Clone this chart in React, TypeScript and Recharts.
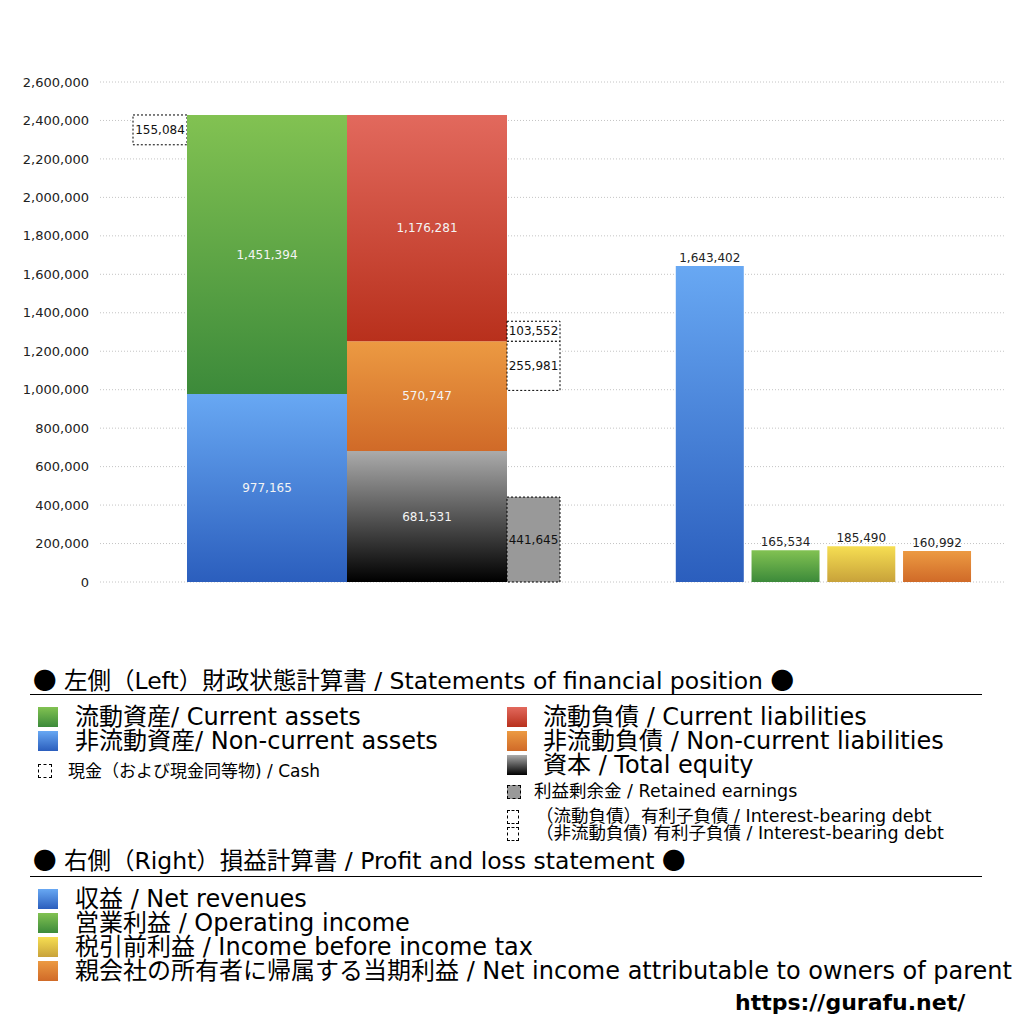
import React from 'react'
import { BarChart, Bar, XAxis, YAxis, CartesianGrid, LabelList, Cell } from 'recharts'

// Balance sheet values (left side)
const cash = [155084]
const currentAssets = [1451394]
const nonCurrentAssets = [977165]
const currentLiabilities = [1176281]
const nonCurrentLiabilities = [570747]
const totalEquity = [681531]
const retainedEarnings = [441645]
const currentDebt = [103552]
const nonCurrentDebt = [255981]

// Profit and loss values (right side)
const plNames = ['収益', '営業利益', '税引前利益', '親会社の所有者に帰属する当期利益']
const plValues = [1643402, 165534, 185490, 160992]
const plFills = ['url(#gBlue)', 'url(#gGreen)', 'url(#gYellow)', 'url(#gOrange)']

const yTicks = [0, 200000, 400000, 600000, 800000, 1000000, 1200000, 1400000, 1600000, 1800000, 2000000, 2200000, 2400000, 2600000]

const FONT = '"DejaVu Sans", "Noto Sans CJK JP", sans-serif'
const CJK = '"Noto Sans CJK JP", sans-serif'
const W = 1024
const H = 620
const MARGIN_L = 100
const MARGIN_R = 19
const MARGIN_T = 82
const MARGIN_B = 38

const fmt = (v: any) => Number(v).toLocaleString('en-US')

const bsData = [
  {
    name: 'BS',
    cashBase: nonCurrentAssets[0] + currentAssets[0] - cash[0],
    cash: cash[0],
    nonCurrentAssets: nonCurrentAssets[0],
    currentAssets: currentAssets[0],
    totalEquity: totalEquity[0],
    nonCurrentLiabilities: nonCurrentLiabilities[0],
    currentLiabilities: currentLiabilities[0],
    retainedEarnings: retainedEarnings[0],
    debtBase: totalEquity[0] + nonCurrentLiabilities[0] - nonCurrentDebt[0] - retainedEarnings[0],
    nonCurrentDebt: nonCurrentDebt[0],
    currentDebt: currentDebt[0],
  },
]

const plData = plNames.map((name, i) => ({ name, value: plValues[i] }))

function Gradients() {
  const stops: [string, string, string][] = [
    ['gGreen', '#82c252', '#3c8a3a'],
    ['gBlue', '#68a8f3', '#2b5ebd'],
    ['gRed', '#e2695d', '#b8301c'],
    ['gOrange', '#ec9a42', '#d06a28'],
    ['gGray', '#ababab', '#000000'],
    ['gYellow', '#f6de52', '#c8a23a'],
  ]
  return (
    <defs>
      {stops.map(([id, a, b]) => (
        <linearGradient key={id} id={id} x1="0" y1="0" x2="0" y2="1">
          <stop offset="0%" stopColor={a} />
          <stop offset="100%" stopColor={b} />
        </linearGradient>
      ))}
    </defs>
  )
}

const inLabel = { fill: '#f4f4f4', fontSize: 12, fontFamily: FONT }
const boxLabel = { fill: '#111', fontSize: 12, fontFamily: FONT }

function BalanceChart() {
  return (
    <BarChart
      width={W}
      height={H}
      data={bsData}
      barGap={0}
      margin={{ top: MARGIN_T, right: MARGIN_R, bottom: MARGIN_B, left: 0 }}
    >
      <Gradients />
      <CartesianGrid vertical={false} stroke="#c4c4c4" strokeDasharray="1 2" />
      <XAxis dataKey="name" hide padding={{ left: 0, right: 412 }} />
      <YAxis
        width={MARGIN_L}
        domain={[0, 2600000]}
        ticks={yTicks}
        tickFormatter={fmt}
        axisLine={false}
        tickLine={false}
        tickSize={0}
        tickMargin={11}
        tick={{ fill: '#222', fontSize: 13, fontFamily: FONT }}
        interval={0}
      />
      {/* cash box floats at the top of total assets */}
      <Bar dataKey="cashBase" stackId="cash" barSize={54} fill="transparent" isAnimationActive={false} />
      <Bar dataKey="cash" stackId="cash" barSize={54} fill="#fff" stroke="#000" strokeDasharray="2 2" isAnimationActive={false}>
        <LabelList dataKey="cash" position="center" formatter={fmt} style={boxLabel} />
      </Bar>
      <Bar dataKey="nonCurrentAssets" stackId="assets" barSize={160} fill="url(#gBlue)" isAnimationActive={false}>
        <LabelList dataKey="nonCurrentAssets" position="center" formatter={fmt} style={inLabel} />
      </Bar>
      <Bar dataKey="currentAssets" stackId="assets" barSize={160} fill="url(#gGreen)" isAnimationActive={false}>
        <LabelList dataKey="currentAssets" position="center" formatter={fmt} style={inLabel} />
      </Bar>
      <Bar dataKey="totalEquity" stackId="liab" barSize={160} fill="url(#gGray)" isAnimationActive={false}>
        <LabelList dataKey="totalEquity" position="center" formatter={fmt} style={inLabel} />
      </Bar>
      <Bar dataKey="nonCurrentLiabilities" stackId="liab" barSize={160} fill="url(#gOrange)" isAnimationActive={false}>
        <LabelList dataKey="nonCurrentLiabilities" position="center" formatter={fmt} style={inLabel} />
      </Bar>
      <Bar dataKey="currentLiabilities" stackId="liab" barSize={160} fill="url(#gRed)" isAnimationActive={false}>
        <LabelList dataKey="currentLiabilities" position="center" formatter={fmt} style={inLabel} />
      </Bar>
      <Bar dataKey="retainedEarnings" stackId="box" barSize={53} fill="#999" stroke="#000" strokeDasharray="2 2" isAnimationActive={false}>
        <LabelList dataKey="retainedEarnings" position="center" formatter={fmt} style={boxLabel} />
      </Bar>
      <Bar dataKey="debtBase" stackId="box" barSize={53} fill="transparent" isAnimationActive={false} />
      <Bar dataKey="nonCurrentDebt" stackId="box" barSize={53} fill="#fff" stroke="#000" strokeDasharray="2 2" isAnimationActive={false}>
        <LabelList dataKey="nonCurrentDebt" position="center" formatter={fmt} style={boxLabel} />
      </Bar>
      <Bar dataKey="currentDebt" stackId="box" barSize={53} fill="#fff" stroke="#000" strokeDasharray="2 2" isAnimationActive={false}>
        <LabelList dataKey="currentDebt" position="center" formatter={fmt} style={boxLabel} />
      </Bar>
    </BarChart>
  )
}

function ProfitChart() {
  return (
    <BarChart
      width={W}
      height={H}
      data={plData}
      barCategoryGap="5%"
      margin={{ top: MARGIN_T, right: MARGIN_R, bottom: MARGIN_B, left: MARGIN_L }}
    >
      <Gradients />
      <XAxis dataKey="name" hide padding={{ left: 572, right: 30 }} />
      <YAxis hide domain={[0, 2600000]} ticks={yTicks} />
      <Bar dataKey="value" isAnimationActive={false}>
        {plData.map((d, i) => (
          <Cell key={d.name} fill={plFills[i]} />
        ))}
        <LabelList dataKey="value" position="top" offset={4} formatter={fmt} style={{ fill: '#222', fontSize: 12, fontFamily: FONT }} />
      </Bar>
    </BarChart>
  )
}

function Swatch({ left, top, size = 20, h, fill, dashed = false }: { left: number; top: number; size?: number; h?: number; fill?: string; dashed?: boolean }) {
  return (
    <div
      style={{
        position: 'absolute',
        left,
        top,
        width: size,
        height: h || size,
        boxSizing: 'border-box',
        background: fill || '#fff',
        border: dashed ? '1px dashed #000' : 'none',
      }}
    />
  )
}

function Text({ left, cy, size, children, bold = false }: { left: number; cy: number; size: number; children: React.ReactNode; bold?: boolean }) {
  const lh = size
  return (
    <div
      style={{
        position: 'absolute',
        left,
        top: cy - lh / 2,
        height: lh,
        lineHeight: `${lh}px`,
        fontSize: size,
        fontFamily: FONT,
        fontWeight: bold ? 700 : 400,
        color: '#000',
        whiteSpace: 'nowrap',
      }}
    >
      {children}
    </div>
  )
}

const Dot = () => <span style={{ fontFamily: CJK }}>●</span>

const g = (a: string, b: string) => `linear-gradient(${a}, ${b})`

export default function App() {
  return (
    <div style={{ position: 'absolute', left: 0, top: 0, width: 1024, height: 1024, background: '#fff', overflow: 'hidden' }}>
      <div style={{ position: 'absolute', left: 0, top: 0 }}>
        <BalanceChart />
      </div>
      <div style={{ position: 'absolute', left: 0, top: 0 }}>
        <ProfitChart />
      </div>

      <Text left={33} cy={680} size={23.5}><Dot /> 左側（Left）財政状態計算書 / Statements of financial position <Dot /></Text>
      <div style={{ position: 'absolute', left: 30, top: 694, width: 952, height: 1, background: '#000' }} />

      <Swatch left={38} top={707} fill={g('#82c252', '#3c8a3a')} />
      <Text left={75} cy={717} size={24}>流動資産/ Current assets</Text>
      <Swatch left={38} top={731} fill={g('#68a8f3', '#2b5ebd')} />
      <Text left={75} cy={741} size={24}>非流動資産/ Non-current assets</Text>
      <Swatch left={38} top={764} size={14} dashed />
      <Text left={68} cy={771} size={17}>現金（および現金同等物) / Cash</Text>

      <Swatch left={507} top={707} fill={g('#e2695d', '#b8301c')} />
      <Text left={543} cy={717} size={24}>流動負債 /  Current liabilities</Text>
      <Swatch left={507} top={731} fill={g('#ec9a42', '#d06a28')} />
      <Text left={543} cy={741} size={24}>非流動負債 / Non-current liabilities</Text>
      <Swatch left={507} top={755} fill={g('#ababab', '#000000')} />
      <Text left={543} cy={765} size={24}>資本 / Total equity</Text>
      <Swatch left={507} top={785} size={14} fill="#999" dashed />
      <Text left={534} cy={792} size={17.5}>利益剰余金 / Retained earnings</Text>
      <Swatch left={507} top={810} size={12} h={14} dashed />
      <Text left={536} cy={817} size={17.5}>（流動負債）有利子負債 / Interest-bearing debt</Text>
      <Swatch left={507} top={827} size={12} h={14} dashed />
      <Text left={536} cy={834} size={17.5}>（非流動負債) 有利子負債 / Interest-bearing debt</Text>

      <Text left={33} cy={860} size={23.5}><Dot /> 右側（Right）損益計算書 / Profit and loss statement <Dot /></Text>
      <div style={{ position: 'absolute', left: 30, top: 876, width: 952, height: 1, background: '#000' }} />

      <Swatch left={38} top={889} fill={g('#68a8f3', '#2b5ebd')} />
      <Text left={75} cy={899} size={24}>収益 / Net revenues</Text>
      <Swatch left={38} top={913} fill={g('#82c252', '#3c8a3a')} />
      <Text left={75} cy={923} size={24}>営業利益 / Operating income</Text>
      <Swatch left={38} top={937} fill={g('#f6de52', '#c8a23a')} />
      <Text left={75} cy={947} size={24}>税引前利益 / Income before income tax</Text>
      <Swatch left={38} top={961} fill={g('#ec9a42', '#d06a28')} />
      <Text left={75} cy={971} size={24}>親会社の所有者に帰属する当期利益 / Net income attributable to owners of parent</Text>

      <Text left={735} cy={1003} size={22} bold>https://gurafu.net/</Text>
    </div>
  )
}
